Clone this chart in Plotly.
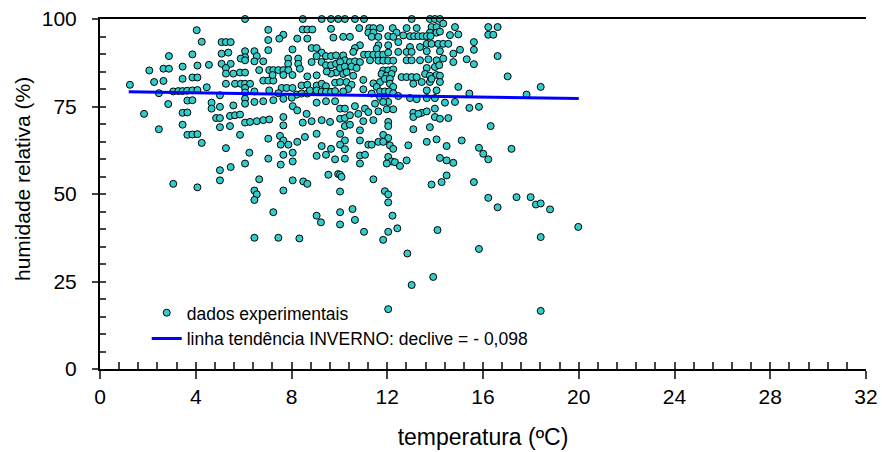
import plotly.graph_objects as go

# (temperatura ºC, humidade relativa %)
temperatura = [
4.04,4.25,2.88,3.86,2.06,2.65,2.88,3.45,4.07,4.55,2.26,2.65,3.45,3.86,4.07,1.25,2.46,3.06,3.27,3.45,3.64,3.86,4.07,4.46,2.85,3.65,3.86,4.66,4.66,1.84,3.45,3.65,4.85,3.45,2.46,3.65,3.86,4.07,4.25,3.06,4.07,
6.06,8.47,9.26,9.65,9.95,
7.03,8.47,8.66,8.87,9.65,7.66,7.49,7.03,8.24,8.66,9.75,
5.08,5.26,5.46,
6.06,6.06,6.45,6.55,5.08,5.36,7.03,8.04,8.84,9.05,
9.26,9.44,9.65,9.86,9.05,7.86,8.28,7.86,8.28,
5.08,5.46,5.88,6.06,6.45,6.82,
5.26,5.26,5.57,5.85,6.06,
6.65,7.07,7.24,7.45,7.66,7.87,
6.82,7.03,7.24,
7.21,7.66,8.04,
8.35,8.66,9.05,8.84,9.26,9.44,9.65,9.86,9.86,9.65,9.47,
5.26,5.64,5.88,6.06,6.27,6.06,
7.59,7.80,8.04,
8.42,8.66,9.05,9.26,9.44,9.82,
5.01,6.06,6.45,7.07,7.45,
8.22,8.42,8.66,8.77,9.05,9.26,9.44,9.65,9.82,
6.06,6.06,
6.45,6.82,7.24,7.66,8.01,
9.05,9.44,9.82,
5.01,5.57,5.01,5.43,5.64,5.85,
8.05,8.24,8.63,
5.01,5.43,6.06,6.27,6.55,6.82,7.07,
7.66,7.66,8.47,8.84,9.26,9.61,
5.85,
7.03,7.52,7.66,7.87,7.55,8.24,8.56,9.05,9.26,9.65,9.44,9.82,
5.26,6.24,7.66,8.05,9.05,7.03,8.05,6.06,7.55,5.01,5.46,
5.01,6.65,8.05,8.49,8.66,9.54,9.95,6.45,7.66,
6.55,6.45,7.24,9.05,9.23,6.45,7.45,8.33,
10.23,10.65,11.03,13.02,13.78,13.99,14.20,
10.83,11.25,11.42,11.70,12.23,12.81,13.23,13.85,14.06,14.34,14.83,
11.21,11.42,12.39,13.78,14.06,14.20,
10.16,10.44,11.35,11.63,
12.04,12.25,12.67,12.95,13.12,13.30,13.48,13.65,13.81,
14.62,14.97,
10.86,10.65,10.58,10.16,
11.63,11.56,12.04,12.46,12.95,13.37,13.65,13.85,14.13,14.34,14.55,
11.03,11.21,11.42,11.63,11.83,
12.04,12.46,12.81,13.02,13.65,14.20,14.76,
10.23,10.03,10.44,10.65,10.86,11.28,
11.63,11.83,12.04,12.25,12.81,13.02,13.37,13.72,14.06,14.34,
10.03,10.23,10.51,10.72,
11.83,12.04,12.25,
13.65,13.99,14.17,14.76,
10.16,10.30,10.58,
11.76,11.97,12.18,
12.60,12.81,13.02,13.23,
13.58,13.78,14.06,14.20,
10.03,10.30,10.51,
11.00,11.42,
11.70,11.90,12.11,12.11,12.25,
13.09,13.44,13.78,13.85,14.20,14.97,
10.37,10.16,11.00,
11.56,11.70,11.90,12.07,12.25,
11.35,11.70,11.90,12.04,11.83,
12.46,12.95,13.23,13.65,14.06,13.65,13.99,14.41,14.83,
10.03,10.23,10.65,11.07,11.49,11.98,12.25,
13.09,13.44,13.65,13.99,
10.03,10.23,10.44,10.79,11.21,11.63,
11.00,11.42,12.04,12.04,
13.09,13.30,13.99,14.20,14.55,
10.23,10.44,
10.03,10.23,10.86,10.86,11.83,12.04,
13.09,13.78,
10.03,10.23,11.21,11.35,11.63,11.83,12.11,12.25,12.88,
13.65,14.06,14.48,
10.23,10.86,11.07,12.04,12.18,10.86,11.98,12.32,12.53,12.81,
14.20,14.48,14.76,
10.03,10.09,11.42,14.48,14.27,13.85,11.90,
10.03,12.04,12.04,10.03,10.03,10.55,10.65,11.03,12.22,12.04,11.83,12.42,14.10,12.84,13.92,13.02,12.04,
16.22,16.61,16.22,16.43,15.62,15.62,15.04,15.32,15.62,16.61,17.03,18.41,15.43,17.82,15.43,15.83,16.32,15.11,15.83,16.01,16.22,17.19,15.62,
16.22,16.61,17.40,17.99,18.21,18.41,18.80,19.98,18.41,15.83,18.41,
]
humidade = [
96.8,93.5,89.4,89.9,85.3,85.8,85.8,86.4,86.7,86.9,82.0,82.3,82.9,83.3,83.3,81.2,78.8,79.3,79.4,79.4,79.5,79.6,79.7,80.5,75.7,76.7,76.8,76.1,74.4,72.9,73.2,73.3,71.7,69.8,68.5,66.9,67.0,67.1,64.6,52.9,51.9,
100,100,100,100,100,
96.9,97.0,97.0,97.0,97.2,95.5,94.4,94.0,94.4,94.4,94.7,
93.4,93.4,93.4,
90.8,89.1,90.8,89.4,90.1,90.4,91.1,91.3,91.7,91.7,
90.4,89.4,89.4,89.6,89.4,88.7,88.7,87.2,87.2,
87.2,87.2,88.7,88.2,87.9,87.9,
86.0,84.4,84.4,84.7,84.7,
85.4,85.4,85.4,85.4,85.4,85.4,
82.4,82.4,82.4,
84.0,84.0,84.0,
85.8,83.6,83.9,87.7,87.7,86.8,86.8,87.2,84.7,84.4,85.0,
81.5,81.5,81.5,81.5,81.5,80.3,
80.3,80.3,80.3,
81.0,81.2,81.0,81.5,80.8,81.8,
78.2,79.0,79.3,79.6,78.8,
78.4,78.7,78.7,79.6,79.6,79.2,79.2,79.2,79.4,
77.2,75.8,
76.3,76.5,76.8,77.2,77.5,
76.1,76.5,76.5,
74.9,75.3,71.7,72.3,72.5,72.7,
75.1,73.9,72.9,
69.1,69.4,70.4,70.6,70.8,71.1,71.3,
72.0,69.6,70.4,70.8,71.1,70.6,
66.9,
65.8,66.6,65.3,64.1,64.1,64.9,66.3,67.2,63.7,62.9,61.2,59.9,
63.1,61.8,61.2,61.8,60.9,60.1,59.3,58.7,58.4,56.8,57.7,
53.9,54.2,53.9,53.6,52.9,55.5,55.7,51.0,51.0,
49.9,48.3,44.8,43.8,41.9,37.5,37.5,37.3,
100,100,100,100,100,100,100,
97.4,97.4,97.4,97.4,97.4,97.4,97.4,97.7,97.7,98.7,97.7,
96.1,96.1,96.1,96.1,96.1,96.4,
94.9,94.9,94.9,94.9,
95.1,94.9,95.3,95.1,95.1,95.1,95.1,95.1,95.1,
95.4,95.6,
92.5,91.7,90.6,89.6,
92.5,91.5,92.5,93.4,92.0,92.0,92.9,92.9,92.9,92.9,92.9,
89.8,89.8,89.8,89.8,89.8,
90.4,90.6,90.6,90.6,90.8,90.8,90.1,
88.2,87.7,87.7,87.9,87.7,88.2,
88.1,88.1,88.1,88.1,88.2,88.2,88.2,88.5,88.2,88.7,
86.0,86.4,86.4,86.0,
85.3,85.3,85.6,
86.0,86.3,86.8,87.7,
84.3,84.8,83.8,
84.3,83.8,84.3,
83.4,83.4,83.4,83.4,
84.3,83.8,84.0,83.8,
82.0,82.0,81.2,
82.6,81.6,
82.0,82.9,82.9,81.5,80.6,
81.5,82.0,82.0,82.9,82.0,80.6,
80.0,79.3,79.9,
80.6,79.3,79.3,79.3,78.8,
78.7,77.7,77.7,76.3,76.3,
78.0,77.4,77.1,79.6,79.6,77.4,77.4,76.1,76.3,
74.4,74.4,75.1,74.4,75.8,74.2,74.2,
73.2,73.2,73.6,74.4,
71.5,71.7,72.5,72.9,73.4,73.6,
70.8,71.1,70.6,69.4,
72.0,72.9,72.0,71.5,71.7,
69.4,69.8,
67.2,65.3,68.2,65.3,66.9,66.0,
68.5,69.1,
64.1,62.8,64.1,64.1,64.9,64.9,63.9,62.9,63.9,
64.9,65.6,63.7,
60.1,61.0,61.2,60.6,59.3,58.7,58.7,59.1,58.0,59.6,
60.3,59.6,58.9,
55.5,54.9,54.2,55.3,53.4,52.7,50.8,
50.7,49.9,47.6,44.8,41.3,45.7,42.6,39.2,43.8,39.2,36.9,40.2,39.7,33.0,26.3,24.0,17.1,
97.7,97.7,95.5,95.5,93.4,91.2,91.2,88.5,87.1,89.4,83.6,80.6,78.7,78.4,74.6,74.9,69.4,65.3,63.2,61.5,59.9,62.9,53.4,
48.9,46.2,49.1,49.1,47.0,47.3,45.6,40.6,37.7,34.3,16.6,
]

# trend line (INVERNO), end points
trend_x = [1.2, 20.0]
trend_y = [79.2, 77.3]

x_major_ticks = [0, 4, 8, 12, 16, 20, 24, 28, 32]
y_major_ticks = [0, 25, 50, 75, 100]
x_minor_ticks = [i * 0.8 for i in range(41)]
y_minor_ticks = [i * 5 for i in range(21)]

FONT = "Liberation Sans, Arial, Helvetica, sans-serif"

fig = go.Figure()
fig.add_trace(go.Scatter(
    x=temperatura, y=humidade, mode="markers", name="dados experimentais",
    marker=dict(size=7, color="#33CCCC", line=dict(color="black", width=1)),
    cliponaxis=False,
))
fig.add_trace(go.Scatter(
    x=trend_x, y=trend_y, mode="lines",
    name="linha tendência INVERNO: declive = - 0,098",
    line=dict(color="#0000FF", width=3),
))
# invisible trace so that the minor-tick overlay axes are drawn
fig.add_trace(go.Scatter(x=[None], y=[None], xaxis="x2", yaxis="y2",
                         showlegend=False, hoverinfo="skip"))

fig.update_layout(
    width=882, height=452,
    margin=dict(l=100, r=16, t=19, b=83, autoexpand=False),
    paper_bgcolor="white", plot_bgcolor="white",
    font=dict(family=FONT, color="black", size=21),
    showlegend=True,
    legend=dict(x=0.061, y=0.212, xanchor="left", yanchor="top",
                bgcolor="rgba(0,0,0,0)", font=dict(size=17.5, family=FONT),
                itemwidth=30, tracegroupgap=0),
    xaxis=dict(range=[0, 32], tickvals=x_major_ticks, ticks="outside", ticklen=8,
               tickwidth=2, showline=True, linewidth=2, linecolor="black",
               mirror=True, showgrid=False, zeroline=False, automargin=False,
               ticklabeloverflow="allow",
               title=dict(text="temperatura (ºC)", font=dict(size=23), standoff=22),
               tickfont=dict(size=21)),
    yaxis=dict(range=[0, 100], tickvals=y_major_ticks, ticks="outside", ticklen=6,
               tickwidth=2, showline=True, linewidth=2, linecolor="black",
               showgrid=False, zeroline=False, automargin=False,
               ticklabeloverflow="allow",
               ticklabelstandoff=11, tickfont=dict(size=21)),
    xaxis2=dict(range=[0, 32], overlaying="x", anchor="y", side="bottom",
                tickvals=x_minor_ticks, ticks="inside", ticklen=7, tickwidth=2,
                showticklabels=False, showline=False, showgrid=False, zeroline=False),
    yaxis2=dict(range=[0, 100], overlaying="y", anchor="x", side="left",
                tickvals=y_minor_ticks, ticks="inside", ticklen=6, tickwidth=2,
                showticklabels=False, showline=False, showgrid=False, zeroline=False),
    annotations=[dict(text="humidade relativa (%)", textangle=-90, showarrow=False,
                      xref="paper", yref="paper", x=(22 - 100) / 766, y=(369 - 179) / 350,
                      xanchor="center", yanchor="middle", font=dict(size=21))],
)

# remove the default page margin so the figure fills the 882x452 window exactly
page_css = ("document.body.style.margin='0';"
            "document.documentElement.style.overflow='hidden';"
            "document.body.style.overflow='hidden';")
fig.write_html("out.html", post_script=page_css,
               config={"displayModeBar": False, "staticPlot": True})
